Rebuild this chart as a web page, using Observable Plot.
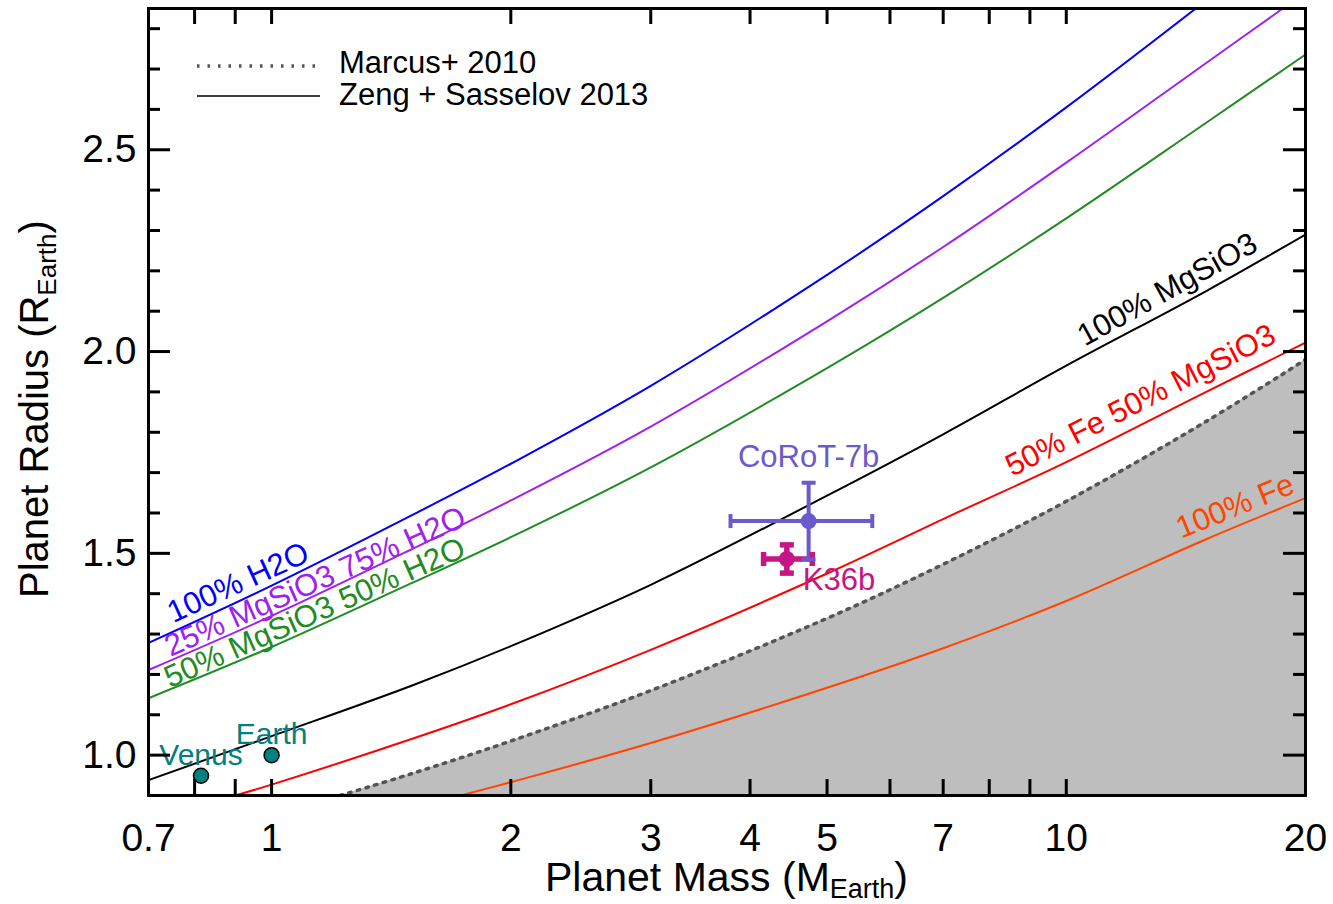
<!DOCTYPE html>
<html><head><meta charset="utf-8">
<script src="https://cdn.jsdelivr.net/npm/d3@7"></script>
<script src="https://cdn.jsdelivr.net/npm/@observablehq/plot@0.6"></script>
<style>
body{margin:0;background:#fff;}
#chart{position:relative;width:1333px;height:904px;}
</style></head><body><div id="chart"></div>
<script>
// ---- Data ----
const h2oMass = [0.7, 1, 1.5, 2, 3, 5, 7, 10, 15];
const h2oRadius = [1.278, 1.42, 1.594, 1.722, 1.915, 2.19, 2.385, 2.605, 2.87];
const mgsio25Mass = [0.7, 1, 1.5, 2, 3, 5, 7, 10, 15, 20];
const mgsio25Radius = [1.211, 1.345, 1.51, 1.631, 1.814, 2.075, 2.259, 2.468, 2.715, 2.89];
const mgsio50Mass = [0.7, 1, 1.5, 2, 3, 5, 7, 10, 15, 20];
const mgsio50Radius = [1.141, 1.268, 1.426, 1.54, 1.713, 1.959, 2.133, 2.33, 2.567, 2.736];
const mgsio100Mass = [0.7, 1, 1.5, 2, 3, 5, 7, 10, 15, 20];
const mgsio100Radius = [0.938, 1.047, 1.172, 1.27, 1.422, 1.643, 1.795, 1.965, 2.15, 2.29];
const fe50Mass = [0.9, 1, 1.5, 2, 3, 5, 7, 10, 15, 20];
const fe50Radius = [0.9, 0.927, 1.04, 1.126, 1.261, 1.45, 1.585, 1.726, 1.90, 2.022];
const fe100Mass = [1.73, 2, 3, 5, 7, 10, 15, 20];
const fe100Radius = [0.9, 0.933, 1.03, 1.167, 1.265, 1.382, 1.535, 1.637];
const marcusMass = [1.22, 1.5, 2, 3, 5, 7, 10, 15, 20];
const marcusRadius = [0.9, 0.954, 1.035, 1.16, 1.339, 1.473, 1.629, 1.827, 1.98];

const curveNames = ["100% H2O", "25% MgSiO3 75% H2O", "50% MgSiO3 50% H2O", "100% MgSiO3", "50% Fe 50% MgSiO3", "100% Fe"];
const curveColors = ["#0000ff", "#a020f0", "#228b22", "#000000", "#ff0000", "#ff4500"];
const curveMasses = [h2oMass, mgsio25Mass, mgsio50Mass, mgsio100Mass, fe50Mass, fe100Mass];
const curveRadii = [h2oRadius, mgsio25Radius, mgsio50Radius, mgsio100Radius, fe50Radius, fe100Radius];
// label anchor (start of baseline) in data units, and rotation
const labelMass = [0.752, 0.746, 0.745, 10.55, 8.55, 13.95];
const labelRadius = [1.327, 1.243, 1.166, 2.012, 1.689, 1.536];
const labelAngle = [-24.5, -24, -24, -29, -27, -22];

const solarNames = ["Venus", "Earth"];
const solarMass = [0.815, 1.0];
const solarRadius = [0.949, 1.0];

const exoNames = ["CoRoT-7b", "K36b"];
const exoColors = ["#6a5acd", "#c71585"];
const exoMass = [4.74, 4.45];
const exoMassLo = [0.96, 0.29];
const exoMassHi = [0.96, 0.34];
const exoRadius = [1.58, 1.486];
const exoRadiusErr = [0.095, 0.035];

const xTickLabels = [0.7, 1, 2, 3, 4, 5, 7, 10, 20];
const xTickMarks = [0.8, 0.9, 1, 2, 3, 4, 5, 6, 7, 8, 9, 10];
const yTickLabels = [1.0, 1.5, 2.0, 2.5];
const yMinorTicks = [1.1, 1.2, 1.3, 1.4, 1.6, 1.7, 1.8, 1.9, 2.1, 2.2, 2.3, 2.4, 2.6, 2.7, 2.8];
const xDomain = [0.7, 20];
const yDomain = [0.9, 2.85];

// ---- Build tables ----
const curveRows = curveNames.flatMap((n, k) => curveMasses[k].map((m, i) => ({name: n, color: curveColors[k], mass: m, radius: curveRadii[k][i]})));
const curveLabelRows = curveNames.map((n, k) => ({name: n, color: curveColors[k], mass: labelMass[k], radius: labelRadius[k], angle: labelAngle[k]}));
const marcusRows = marcusMass.map((m, i) => ({mass: m, radius: marcusRadius[i]}));
const solarRows = solarNames.map((n, i) => ({name: n, mass: solarMass[i], radius: solarRadius[i]}));
const exoRows = exoNames.map((n, i) => ({name: n, color: exoColors[i], mass: exoMass[i], lo: exoMass[i] - exoMassLo[i], hi: exoMass[i] + exoMassHi[i], radius: exoRadius[i], rlo: exoRadius[i] - exoRadiusErr[i], rhi: exoRadius[i] + exoRadiusErr[i], w: i === 0 ? 4 : 5.5}));

const W = 1333, H = 904, mT = 8, mR = 28, mB = 109, mL = 148;
const plotW = W - mL - mR, plotH = H - mT - mB;
const font = "'Liberation Sans', Arial, Helvetica, sans-serif";

const capH = {draw(ctx, size) { const r = Math.sqrt(size / Math.PI); ctx.moveTo(-r, 0); ctx.lineTo(r, 0); }};
const capV = {draw(ctx, size) { const r = Math.sqrt(size / Math.PI); ctx.moveTo(0, -r); ctx.lineTo(0, r); }};

const chart = Plot.plot({
  width: W, height: H,
  marginTop: mT, marginRight: mR, marginBottom: mB, marginLeft: mL,
  style: {fontFamily: font, fontSize: "39px", background: "white", overflow: "visible"},
  x: {type: "log", domain: xDomain, label: null},
  y: {domain: yDomain, label: null},
  marks: [
    Plot.areaY(marcusRows, {x: "mass", y1: yDomain[0], y2: "radius", fill: "#bebebe", curve: "catmull-rom", clip: true}),
    Plot.line(marcusRows, {x: "mass", y: "radius", stroke: "#555555", strokeWidth: 3.5, strokeDasharray: "2.5,6.5", curve: "catmull-rom", clip: true}),
    Plot.line(curveRows, {x: "mass", y: "radius", z: "name", stroke: "color", strokeWidth: 2, curve: "catmull-rom", clip: true}),
    Plot.text(curveLabelRows, {x: "mass", y: "radius", text: "name", fill: "color", rotate: (d) => d.angle, textAnchor: "start", lineAnchor: "bottom", fontSize: 31}),
    // exoplanet error bars
    Plot.link(exoRows, {x1: "lo", x2: "hi", y1: "radius", y2: "radius", stroke: "color", strokeWidth: "w"}),
    Plot.link(exoRows, {x1: "mass", x2: "mass", y1: "rlo", y2: "rhi", stroke: "color", strokeWidth: "w"}),
    Plot.dot(exoRows, {x: "lo", y: "radius", symbol: capV, r: 7, stroke: "color", strokeWidth: "w", fill: "none"}),
    Plot.dot(exoRows, {x: "hi", y: "radius", symbol: capV, r: 7, stroke: "color", strokeWidth: "w", fill: "none"}),
    Plot.dot(exoRows, {x: "mass", y: "rlo", symbol: capH, r: 7, stroke: "color", strokeWidth: "w", fill: "none"}),
    Plot.dot(exoRows, {x: "mass", y: "rhi", symbol: capH, r: 7, stroke: "color", strokeWidth: "w", fill: "none"}),
    Plot.dot(exoRows, {x: "mass", y: "radius", r: 8, fill: "color", stroke: "none"}),
    Plot.text(exoRows.filter((d) => d.name === "CoRoT-7b"), {x: "mass", y: "radius", text: "name", fill: "color", fontSize: 31, lineAnchor: "bottom", textAnchor: "middle", dy: -54}),
    Plot.text(exoRows.filter((d) => d.name === "K36b"), {x: "mass", y: "radius", text: "name", fill: "color", fontSize: 31, lineAnchor: "bottom", textAnchor: "start", dx: 16, dy: 31}),
    // solar system planets
    Plot.dot(solarRows, {x: "mass", y: "radius", r: 7.5, fill: "#008080", stroke: "black", strokeWidth: 1.5}),
    Plot.text(solarRows, {x: "mass", y: "radius", text: "name", fill: "#008080", fontSize: 30, lineAnchor: "bottom", textAnchor: "middle", dy: -11}),
    // frame & inward ticks
    Plot.frame({stroke: "black", strokeWidth: 3}),
    Plot.tickX(xTickMarks, {x: (d) => d, stroke: "black", strokeWidth: 3, insetTop: plotH - 16}),
    Plot.tickX(xTickMarks, {x: (d) => d, stroke: "black", strokeWidth: 3, insetBottom: plotH - 16}),
    Plot.tickY(yTickLabels, {y: (d) => d, stroke: "black", strokeWidth: 3, insetRight: plotW - 22}),
    Plot.tickY(yTickLabels, {y: (d) => d, stroke: "black", strokeWidth: 3, insetLeft: plotW - 22}),
    Plot.tickY(yMinorTicks, {y: (d) => d, stroke: "black", strokeWidth: 3, insetRight: plotW - 12}),
    Plot.tickY(yMinorTicks, {y: (d) => d, stroke: "black", strokeWidth: 3, insetLeft: plotW - 12}),
    Plot.axisX(xTickLabels, {anchor: "bottom", tickSize: 0, tickPadding: 28, tickFormat: (d) => String(d), fontSize: 39, label: null}),
    Plot.axisY(yTickLabels, {anchor: "left", tickSize: 0, tickPadding: 12, tickFormat: (d) => d.toFixed(1), fontSize: 39, label: null})
  ]
});

document.getElementById("chart").appendChild(chart);
const svg = d3.select(chart);

// legend (inside frame, top-left)
const lg = svg.append("g").attr("font-family", font).attr("font-size", 31).attr("text-anchor", "start");
lg.append("line").attr("x1", 197).attr("x2", 320).attr("y1", 66).attr("y2", 66)
  .attr("stroke", "#555555").attr("stroke-width", 3.5).attr("stroke-dasharray", "2.5,8");
lg.append("line").attr("x1", 197).attr("x2", 320).attr("y1", 96).attr("y2", 96)
  .attr("stroke", "black").attr("stroke-width", 1.6);
lg.append("text").attr("x", 339).attr("y", 73).attr("text-anchor", "start").text("Marcus+ 2010");
lg.append("text").attr("x", 339).attr("y", 105).attr("text-anchor", "start").text("Zeng + Sasselov 2013");

// axis titles with subscripts
const xt = svg.append("text").attr("x", 545).attr("y", 891).attr("text-anchor", "start").attr("font-family", font).attr("font-size", 41);
xt.append("tspan").text("Planet Mass (M");
xt.append("tspan").attr("font-size", 27).attr("dy", 7).text("Earth");
xt.append("tspan").attr("dy", -7).text(")");
const yt = svg.append("text").attr("transform", "translate(48,598) rotate(-90)").attr("text-anchor", "start").attr("font-family", font).attr("font-size", 40);
yt.append("tspan").text("Planet Radius (R");
yt.append("tspan").attr("font-size", 26).attr("dy", 8).text("Earth");
yt.append("tspan").attr("dy", -8).text(")");
</script></body></html>
